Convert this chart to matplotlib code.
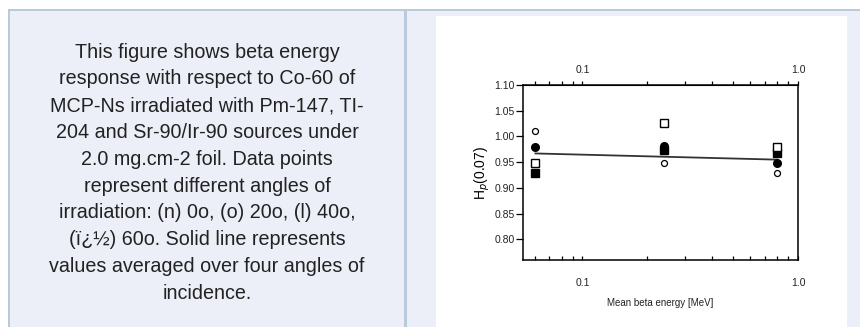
import matplotlib
matplotlib.use("Agg")
import matplotlib.pyplot as plt
from matplotlib.patches import Rectangle
from matplotlib.ticker import FixedLocator, NullFormatter

# caption text, one entry per rendered line
caption_lines = [
    "This figure shows beta energy",
    "response with respect to Co-60 of",
    "MCP-Ns irradiated with Pm-147, TI-",
    "204 and Sr-90/Ir-90 sources under",
    "2.0 mg.cm-2 foil. Data points",
    "represent different angles of",
    "irradiation: (n) 0o, (o) 20o, (l) 40o,",
    "(ï¿½) 60o. Solid line represents",
    "values averaged over four angles of",
    "incidence.",
]

# mean beta energy (MeV) of the three sources
energy = [0.0605, 0.24, 0.80]
# response per angle of incidence
resp_0 = [0.929, 0.973, 0.968]    # filled square
resp_20 = [1.011, 0.948, 0.930]   # open circle
resp_40 = [0.979, 0.982, 0.949]   # filled circle
resp_60 = [0.948, 1.027, 0.979]   # open square
# averaged line
fit_x = [0.0605, 0.80]
fit_y = [0.967, 0.955]

W, H = 860, 329
fig = plt.figure(figsize=(W / 100, H / 100), dpi=100)
fig.patch.set_facecolor("white")


def px_rect(x0, y0, x1, y1, color):
    # rectangle given in picture pixels (top-left origin)
    fig.patches.append(Rectangle((x0 / W, 1 - y1 / H), (x1 - x0) / W, (y1 - y0) / H,
                                 transform=fig.transFigure, facecolor=color,
                                 edgecolor="none", zorder=-10))


cell_bg = "#eceff8"
border = "#b9cadb"
px_rect(8, 9, W, 327, cell_bg)
px_rect(8, 9, W, 11, border)
px_rect(8, 9, 10, 327, border)
px_rect(404, 9, 407, 327, border)
px_rect(436, 16, 847, 327, "white")

for i, line in enumerate(caption_lines):
    y = 52 + i * 26.8
    fig.text(207 / W, 1 - y / H, line, ha="center", va="center",
             fontsize=14.2, color="#222222", family="Liberation Sans")

# chart
ax = fig.add_axes([523 / W, 1 - 260 / H, 275 / W, 175 / H])
ax.set_zorder(5)
ax.set_facecolor("white")
ax.set_xscale("log")
ax.set_xlim(0.053, 1.0)
ax.set_ylim(0.76, 1.10)

ms = 5.5
ax.plot(fit_x, fit_y, color="#333333", lw=1.3, zorder=2)
ax.plot(energy, resp_0, "s", color="black", ms=ms, zorder=3)
ax.plot(energy, resp_20, "o", mfc="white", mec="black", mew=0.9, ms=4.3, zorder=3)
ax.plot(energy, resp_40, "o", color="black", ms=ms, zorder=3)
ax.plot(energy, resp_60, "s", mfc="white", mec="black", mew=1.0, ms=ms, zorder=3)

tick_font = dict(family="Liberation Sans", size=7.5, color="#222222")
ax.set_yticks([0.80, 0.85, 0.90, 0.95, 1.00, 1.05, 1.10])
ax.set_yticklabels(["0.80", "0.85", "0.90", "0.95", "1.00", "1.05", "1.10"], fontdict=tick_font)
ax.set_xticks([0.1, 1.0])
ax.set_xticklabels(["0.1", "1.0"], fontdict=tick_font)
minor = [0.06, 0.07, 0.08, 0.09, 0.2, 0.3, 0.4, 0.5, 0.6, 0.7, 0.8, 0.9]
ax.xaxis.set_minor_locator(FixedLocator(minor))
ax.xaxis.set_minor_formatter(NullFormatter())
ax.tick_params(axis="x", which="both", direction="in", length=3, width=0.9, pad=13)
ax.tick_params(axis="y", direction="out", length=5, width=0.9, pad=1)
for s in ax.spines.values():
    s.set_linewidth(1.1)

top = ax.secondary_xaxis("top")
top.set_xticks([0.1, 1.0])
top.set_xticklabels(["0.1", "1.0"], fontdict=tick_font)
top.xaxis.set_minor_locator(FixedLocator(minor))
top.xaxis.set_minor_formatter(NullFormatter())
top.tick_params(axis="x", which="both", direction="out", length=3, width=0.9, pad=4.5)

ax.set_xlabel("Mean beta energy [MeV]", fontsize=7, color="#222222",
              family="Liberation Sans", labelpad=7)
ax.set_ylabel("H$_p$(0.07)", fontsize=10, family="Liberation Sans", labelpad=2)

fig.savefig("out.png", dpi=100)
